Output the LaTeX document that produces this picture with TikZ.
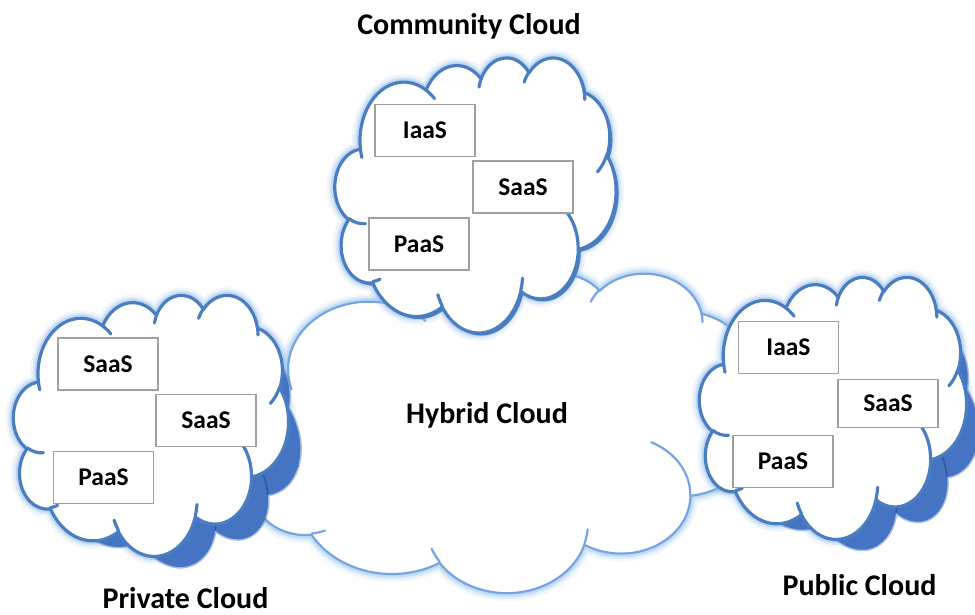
\documentclass[tikz,border=0pt]{standalone}
\usepackage{fontspec}
\setmainfont{Carlito}

% Parametric start/end angles of the elliptical arcs of the cloud outline
% (arguments: name, x radius, y radius, start angle, sweep, all in degrees)
\newcommand\oodef[5]{%
  \pgfmathsetmacro\ootmpa{atan2((#2)*sin(#4),(#3)*cos(#4))}%
  \pgfmathsetmacro\ootmpb{atan2((#2)*sin((#4)+(#5)),(#3)*cos((#4)+(#5)))}%
  \pgfmathsetmacro\ootmpb{\ootmpb+360*(\ootmpb<\ootmpa)}%
  \expandafter\let\csname oo#1s\endcsname\ootmpa
  \expandafter\let\csname oo#1e\endcsname\ootmpb}
% outline lobes
\oodef{A}{67.53}{91.90}{-190.4875}{123.7805}
\oodef{B}{53.33}{72.67}{-144.1024}{89.9452}
\oodef{C}{43.65}{59.45}{-145.8079}{99.7230}
\oodef{D}{48.57}{65.95}{-130.9861}{117.2417}
\oodef{E}{53.33}{72.73}{-78.7089}{109.0269}
\oodef{F}{67.75}{92.20}{-46.2673}{130.2690}
\oodef{G}{57.85}{78.67}{0.6250}{114.0333}
\oodef{H}{67.52}{92.15}{22.4516}{115.1726}
\oodef{I}{77.20}{105.43}{66.2426}{75.7110}
\oodef{J}{43.60}{59.18}{-274.9421}{146.7356}
\oodef{K}{43.45}{59.45}{-246.8285}{152.5189}
% inner creases
\oodef{a}{43.45}{59.45}{86.7420}{26.4295}
\oodef{b}{43.60}{59.18}{73.6105}{11.4475}
\oodef{c}{67.52}{92.15}{137.6242}{14.0811}
\oodef{d}{67.52}{92.15}{6.4533}{15.9984}
\oodef{e}{57.85}{78.67}{-70.2924}{70.9174}
\oodef{f}{53.33}{72.73}{30.3180}{27.7515}
\oodef{g}{48.57}{65.95}{-13.7443}{14.8589}
\oodef{h}{48.57}{65.95}{-149.1815}{18.1954}
\oodef{i}{43.65}{59.45}{-163.4943}{17.6864}
\oodef{j}{67.53}{91.90}{-66.7070}{12.3194}
\oodef{k}{67.53}{91.90}{157.6544}{11.8582}

% cloud frame: top-left corner (\cx,\cy) and scale (\sx,\sy) of a 432x432 cell
\newcommand\setcloud[4]{\def\cx{#1}\def\cy{#2}\def\sx{#3}\def\sy{#4}}
\newcommand\ooarc[3]{arc[start angle={0-(\csname oo#1s\endcsname)},
  end angle={0-(\csname oo#1e\endcsname)}, x radius={#2pt*\sx}, y radius={#3pt*\sy}]}
\newcommand\ooat[2]{({\cx+#1*\sx},{\cy-#2*\sy})}
\newcommand\cloudpath{%
  \ooat{39.00}{143.70}
  \ooarc{A}{67.53}{91.90}
  \ooarc{B}{53.33}{72.67}
  \ooarc{C}{43.65}{59.45}
  \ooarc{D}{48.57}{65.95}
  \ooarc{E}{53.33}{72.73}
  \ooarc{F}{67.75}{92.20}
  \ooarc{G}{57.85}{78.67}
  \ooarc{H}{67.52}{92.15}
  \ooarc{I}{77.20}{105.43}
  \ooarc{J}{43.60}{59.18}
  \ooarc{K}{43.45}{59.45}
  -- cycle}
\newcommand\creasepath{%
  \ooat{46.93}{261.77} \ooarc{a}{43.45}{59.45}
  \ooat{69.28}{348.99} \ooarc{b}{43.60}{59.18}
  \ooat{164.78}{390.90} \ooarc{c}{67.52}{92.15}
  \ooat{288.27}{347.51} \ooarc{d}{67.52}{92.15}
  \ooat{341.29}{229.54} \ooarc{e}{57.85}{78.67}
  \ooat{417.98}{153.54} \ooarc{f}{53.33}{72.73}
  \ooat{383.24}{54.26} \ooarc{g}{48.57}{65.95}
  \ooat{290.78}{39.52} \ooarc{h}{48.57}{65.95}
  \ooat{221.41}{47.20} \ooarc{i}{43.65}{59.45}
  \ooat{140.00}{51.92} \ooarc{j}{67.53}{91.90}
  \ooat{41.27}{157.89} \ooarc{k}{67.53}{91.90}}

\definecolor{cloudline}{RGB}{74,126,192}
\definecolor{cloudglow}{RGB}{140,182,232}
\definecolor{hybline}{RGB}{118,164,224}
\definecolor{hybglow}{RGB}{150,192,238}
\definecolor{shade}{RGB}{68,116,194}
\definecolor{shadecrease}{RGB}{46,88,158}
\definecolor{boxline}{RGB}{160,160,160}

\tikzset{
  glowone/.style={draw=#1, draw opacity=0.12, line width=16pt, line join=round},
  glowtwo/.style={draw=#1, draw opacity=0.20, line width=11pt, line join=round},
  glowthree/.style={draw=#1, draw opacity=0.35, line width=7pt, line join=round},
  rim/.style={draw=cloudline, line width=3.2pt, line join=round, line cap=round},
  hybrim/.style={draw=hybline, line width=2.2pt, line join=round, line cap=round},
  shadowfill/.style={fill=shade, draw=shade, draw opacity=0.45, line width=3pt},
  shadowcrease/.style={draw=shadecrease, line width=1.5pt, line cap=round},
  svc/.style={draw=boxline, line width=1.3pt, fill=white, minimum width=100pt,
    minimum height=52pt, inner sep=0pt, font=\fontsize{25.5}{30}\selectfont\bfseries},
  title/.style={anchor=base, inner sep=0pt, font=\fontsize{30}{36}\selectfont\bfseries}
}

\begin{document}
\begin{tikzpicture}[x=1pt,y=1pt]
\useasboundingbox (0,0) rectangle (975,614);
\fill[white] (0,0) rectangle (975,614);

% ---------- hybrid cloud (behind the others) ----------
\setcloud{242}{341.5}{1.1991}{0.7396}
\path[glowone=hybglow] \cloudpath;
\path[glowtwo=hybglow] \cloudpath;
\path[glowthree=hybglow] \cloudpath;
\path[fill=white] \cloudpath;
\path[hybrim] \cloudpath;
\path[hybrim] \creasepath;

% ---------- community cloud ----------
\setcloud{335}{557}{0.6505}{0.6366}
\path[glowone=cloudglow] \cloudpath;
\path[glowtwo=cloudglow] \cloudpath;
\path[glowthree=cloudglow] \cloudpath;
\setcloud{337.5}{554.5}{0.6505}{0.6366}
\path[fill=cloudline] \cloudpath;
\setcloud{335}{557}{0.6505}{0.6366}
\path[fill=white] \cloudpath;
\path[rim] \cloudpath;
\path[rim] \creasepath;

% ---------- private cloud ----------
\setcloud{13.5}{319.5}{0.6366}{0.6042}
\path[glowone=cloudglow] \cloudpath;
\path[glowtwo=cloudglow] \cloudpath;
\path[glowthree=cloudglow] \cloudpath;
% slanted shadow falling to the lower right
\begin{scope}[cm={1,-0.075,-0.09,1,(28.76pt,1.01pt)}]
  \path[shadowfill] \cloudpath;
  \path[shadowcrease] \creasepath;
\end{scope}
\path[fill=white] \cloudpath;
\path[rim] \cloudpath;
\path[rim] \creasepath;

% ---------- public cloud ----------
\setcloud{699.5}{337.5}{0.6181}{0.6065}
\path[glowone=cloudglow] \cloudpath;
\path[glowtwo=cloudglow] \cloudpath;
\path[glowthree=cloudglow] \cloudpath;
\begin{scope}[cm={1,-0.075,-0.09,1,(30.38pt,52.46pt)}]
  \path[shadowfill] \cloudpath;
  \path[shadowcrease] \creasepath;
\end{scope}
\path[fill=white] \cloudpath;
\path[rim] \cloudpath;
\path[rim] \creasepath;

% ---------- service boxes ----------
\node[svc] (cIaaS) at (425,483.5) {IaaS};
\node[svc] (cSaaS) at (523,427) {SaaS};
\node[svc] (cPaaS) at (419,370) {PaaS};

\node[svc] (vSaaSa) at (108,250) {SaaS};
\node[svc] (vSaaSb) at (206,193.5) {SaaS};
\node[svc] (vPaaS) at (103.5,136.5) {PaaS};

\node[svc] (pIaaS) at (788.5,266.5) {IaaS};
\node[svc, minimum height=48pt] (pSaaS) at (888,210.5) {SaaS};
\node[svc] (pPaaS) at (783,152.5) {PaaS};

% ---------- captions ----------
\node[title] (tComm) at (469,579) {Community Cloud};
\node[title] (tHyb) at (487,191) {Hybrid Cloud};
\node[title] (tPriv) at (185.5,6) {Private Cloud};
\node[title] (tPub) at (859.5,19) {Public Cloud};
\end{tikzpicture}
\end{document}
